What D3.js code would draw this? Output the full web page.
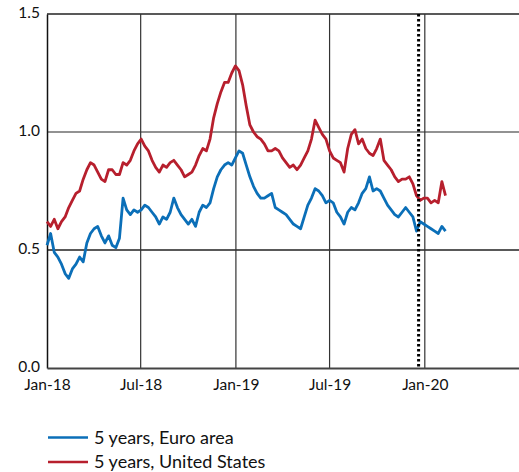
<!DOCTYPE html>
<html><head><meta charset="utf-8">
<script src="https://cdn.jsdelivr.net/npm/d3@7"></script>
<style>
html,body{margin:0;padding:0;background:#fff;}
svg{display:block;font-family:Lato,"Open Sans",sans-serif;}
</style></head>
<body><svg id="chart" width="519" height="472"></svg>
<script>
// weekly observations, starting 2018-01-01, 7-day steps
const startDate = "2018-01-01";
const endDate = "2020-02-13";
const stepDays = 7;
const seriesNames = ["5 years, Euro area", "5 years, United States"];
const euroArea = [
0.52,0.57,0.49,0.47,0.44,0.40,0.38,0.42,0.44,0.47,0.45,0.53,0.57,0.59,0.60,0.56,0.53,0.56,0.52,0.51,
0.55,0.72,0.67,0.65,0.67,0.66,0.67,0.69,0.68,0.66,0.64,0.61,0.64,0.63,0.66,0.72,0.68,0.65,0.63,0.61,
0.63,0.60,0.66,0.69,0.68,0.70,0.76,0.81,0.84,0.86,0.87,0.86,0.89,0.92,0.91,0.86,0.81,0.77,0.74,0.72,
0.72,0.73,0.74,0.68,0.67,0.66,0.65,0.63,0.61,0.60,0.59,0.64,0.69,0.72,0.76,0.75,0.73,0.70,0.71,0.70,
0.66,0.64,0.61,0.66,0.68,0.67,0.70,0.74,0.76,0.81,0.75,0.76,0.75,0.72,0.69,0.67,0.65,0.64,0.66,0.68,
0.66,0.64,0.58,0.62,0.61,0.60,0.59,0.58,0.57,0.60,0.58];
const unitedStates = [
0.62,0.60,0.63,0.59,0.62,0.64,0.68,0.71,0.74,0.75,0.80,0.84,0.87,0.86,0.83,0.80,0.79,0.84,0.84,0.82,
0.82,0.87,0.86,0.88,0.92,0.95,0.97,0.94,0.92,0.88,0.85,0.83,0.86,0.85,0.87,0.88,0.86,0.84,0.81,0.82,
0.83,0.86,0.90,0.93,0.92,0.97,1.06,1.12,1.17,1.21,1.21,1.25,1.28,1.26,1.20,1.11,1.03,1.00,0.98,0.97,
0.95,0.92,0.92,0.93,0.92,0.89,0.87,0.85,0.86,0.84,0.86,0.89,0.92,0.97,1.05,1.02,0.99,0.97,0.92,0.89,
0.88,0.87,0.83,0.93,0.99,1.01,0.95,0.97,0.93,0.91,0.90,0.93,0.97,0.88,0.86,0.84,0.81,0.79,0.80,0.80,
0.81,0.78,0.73,0.71,0.72,0.72,0.70,0.71,0.70,0.79,0.73];
const xTickLabels = ["Jan-18","Jul-18","Jan-19","Jul-19","Jan-20"];
const xTickDates = ["2018-01-01","2018-07-01","2019-01-01","2019-07-01","2020-01-01"];
const yTicks = [0, 0.5, 1.0, 1.5];
const markerDate = "2019-12-20";
const xDomain = ["2018-01-01","2020-07-01"];

const parse = d3.timeParse("%Y-%m-%d");
const dates = d3.timeDay.range(parse(startDate), parse(endDate)).filter((d,i)=> i % stepDays === 0);

const svg = d3.select("#chart");
const margin = {left:47, right:0, top:14, bottom:104};
const W = 519, H = 472;
const x = d3.scaleTime().domain(xDomain.map(parse)).range([margin.left, W - margin.right]);
const y = d3.scaleLinear().domain([0, 1.5]).range([H - margin.bottom, margin.top]);

// horizontal gridlines
svg.append("g").selectAll("line").data(yTicks.filter(v=>v>0)).join("line")
  .attr("x1", margin.left).attr("x2", W)
  .attr("y1", d=>y(d)).attr("y2", d=>y(d))
  .attr("stroke", d=> d===1.0 ? "#6e6e6e" : "#222")
  .attr("stroke-width", d=> d===1.0 ? 1.6 : 1.3);

// vertical gridlines
svg.append("g").selectAll("line").data(xTickDates.slice(1)).join("line")
  .attr("x1", d=>x(parse(d))).attr("x2", d=>x(parse(d)))
  .attr("y1", y(1.5)).attr("y2", y(0))
  .attr("stroke", "#333").attr("stroke-width", 1.2);

// y axis
const yAxis = d3.axisLeft(y).tickValues(yTicks).tickFormat(d3.format(".1f")).tickSize(0).tickPadding(7);
const gy = svg.append("g").attr("transform", `translate(${margin.left},0)`).call(yAxis);
gy.select(".domain").attr("stroke","#111").attr("stroke-width",1.5);
gy.selectAll("text").attr("font-size","15.5px").attr("fill","#111").attr("font-family","Lato, sans-serif")
  .attr("dy","0.25em");

// x axis
const xAxis = d3.axisBottom(x).tickValues(xTickDates.map(parse))
  .tickFormat((d,i)=>xTickLabels[i]).tickSize(0).tickPadding(11);
const gx = svg.append("g").attr("transform", `translate(0,${y(0)})`).call(xAxis);
gx.select(".domain").attr("stroke","#444").attr("stroke-width",2);
gx.selectAll("text").attr("font-size","15.5px").attr("fill","#111").attr("font-family","Lato, sans-serif");

// lines
const line = d3.line().x((d,i)=>x(dates[i])).y(d=>y(d));
svg.append("path").datum(euroArea).attr("d", line)
  .attr("fill","none").attr("stroke","#0b6fb8").attr("stroke-width",2.8).attr("stroke-linejoin","round");
svg.append("path").datum(unitedStates).attr("d", line)
  .attr("fill","none").attr("stroke","#b71f2d").attr("stroke-width",2.8).attr("stroke-linejoin","round");

// dotted marker line
svg.append("line")
  .attr("x1", x(parse(markerDate))).attr("x2", x(parse(markerDate)))
  .attr("y1", y(1.5)).attr("y2", y(0))
  .attr("stroke","#000").attr("stroke-width",3).attr("stroke-dasharray","2.5,2.5");

// legend
const legendColors = ["#0b6fb8","#b71f2d"];
const lg = svg.append("g").selectAll("g").data(seriesNames).join("g")
  .attr("transform",(d,i)=>`translate(48,${437.5 + i*24.5})`);
lg.append("line").attr("x1",0).attr("x2",40).attr("y1",0).attr("y2",0)
  .attr("stroke",(d,i)=>legendColors[i]).attr("stroke-width",2.5);
lg.append("text").attr("x",46).attr("y",0).attr("dy","0.35em")
  .attr("font-size","18px").attr("fill","#111").text(d=>d);
</script></body></html>
